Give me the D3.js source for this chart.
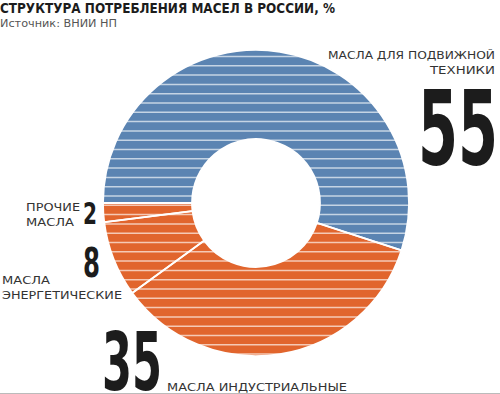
<!DOCTYPE html>
<html>
<head>
<meta charset="utf-8">
<script src="https://cdn.jsdelivr.net/npm/d3@7"></script>
<style>
  body { margin: 0; background: #fff; }
  svg { display: block; }
  .lbl { font-family: "DejaVu Sans Condensed", "Liberation Sans Narrow", sans-serif; fill: #333; }
  .big { font-family: "DejaVu Sans Condensed", "Liberation Sans Narrow", sans-serif; font-weight: bold; fill: #1c1c1c; }
</style>
</head>
<body>
<div id="chart"></div>
<script>
// data
var categories = ["МАСЛА ДЛЯ ПОДВИЖНОЙ ТЕХНИКИ", "МАСЛА ИНДУСТРИАЛЬНЫЕ", "МАСЛА ЭНЕРГЕТИЧЕСКИЕ", "ПРОЧИЕ МАСЛА"];
var values = [55, 35, 8, 2];
var colors = ["#5b84b2", "#e1652d", "#e1652d", "#e1652d"];
var title = "СТРУКТУРА ПОТРЕБЛЕНИЯ МАСЕЛ В РОССИИ, %";
var source = "Источник: ВНИИ НП";

var width = 500, height = 394;
var cx = 256, cy = 203, rOut = 153, rIn = 64;

var svg = d3.select("#chart").append("svg")
  .attr("width", width)
  .attr("height", height);

// title + source
svg.append("text")
  .attr("x", 0).attr("y", 13)
  .attr("textLength", 335).attr("lengthAdjust", "spacingAndGlyphs")
  .style("font-family", '"DejaVu Sans Condensed", sans-serif')
  .style("font-weight", "bold").style("font-size", "13.5px").style("fill", "#1c1c1c")
  .text(title);
svg.append("text")
  .attr("x", 0).attr("y", 27)
  .attr("textLength", 117).attr("lengthAdjust", "spacingAndGlyphs")
  .style("font-family", '"DejaVu Sans Condensed", sans-serif')
  .style("font-size", "10px").style("fill", "#555")
  .text(source);

// donut
var pie = d3.pie().sort(null)
  .startAngle(-Math.PI / 2)
  .endAngle(3 * Math.PI / 2);
var arc = d3.arc().innerRadius(rIn).outerRadius(rOut);
var arcs = pie(values);

var g = svg.append("g").attr("transform", "translate(" + cx + "," + cy + ")");

svg.append("clipPath").attr("id", "donutClip")
  .append("path")
  .attr("transform", "translate(" + cx + "," + cy + ")")
  .attr("d", d3.arc().innerRadius(rIn).outerRadius(rOut).startAngle(0).endAngle(2 * Math.PI)());

g.selectAll("path.slice")
  .data(arcs)
  .enter().append("path")
  .attr("class", "slice")
  .attr("d", arc)
  .attr("fill", function(d, i) { return colors[i]; });

// horizontal stripes over the ring
var stripeY = d3.range(56.5, cy + rOut, 9.3);
svg.append("g").attr("clip-path", "url(#donutClip)")
  .selectAll("line")
  .data(stripeY)
  .enter().append("line")
  .attr("x1", cx - rOut).attr("x2", cx + rOut)
  .attr("y1", function(d) { return d; }).attr("y2", function(d) { return d; })
  .attr("stroke", "#fff").attr("stroke-opacity", 0.65).attr("stroke-width", 1.5);

// slice separators
g.selectAll("path.sep")
  .data(arcs)
  .enter().append("path")
  .attr("class", "sep")
  .attr("d", arc)
  .attr("fill", "none")
  .attr("stroke", "#fff")
  .attr("stroke-width", 1.8);

// labels
function label(lines, x, y, anchor, lens) {
  var t = svg.append("text").attr("class", "lbl")
    .attr("text-anchor", anchor)
    .style("font-size", "11px");
  lines.forEach(function(s, i) {
    t.append("tspan")
      .attr("x", x).attr("y", y + i * 15)
      .attr("textLength", lens[i]).attr("lengthAdjust", "spacingAndGlyphs")
      .text(s);
  });
}
function bigNum(v, x, y, size, len) {
  svg.append("text").attr("class", "big")
    .attr("x", x).attr("y", y)
    .attr("textLength", len).attr("lengthAdjust", "spacingAndGlyphs")
    .style("font-size", size + "px")
    .text(v);
}

label(["МАСЛА ДЛЯ ПОДВИЖНОЙ", "ТЕХНИКИ"], 495, 59, "end", [167, 65]);
bigNum(values[0], 418, 165, 104, 80);

label(["МАСЛА ИНДУСТРИАЛЬНЫЕ"], 167, 391, "start", [180]);
bigNum(values[1], 102, 390, 80, 60);

label(["МАСЛА", "ЭНЕРГЕТИЧЕСКИЕ"], 2, 284, "start", [48, 120]);
bigNum(values[2], 83, 277, 40, 17);

label(["ПРОЧИЕ", "МАСЛА"], 26, 211, "start", [54, 48]);
bigNum(values[3], 83, 224, 30, 14);

// bottom rule
svg.append("line")
  .attr("x1", 0).attr("x2", width)
  .attr("y1", height - 0.5).attr("y2", height - 0.5)
  .attr("stroke", "#bbb").attr("stroke-width", 1);
</script>
</body>
</html>
